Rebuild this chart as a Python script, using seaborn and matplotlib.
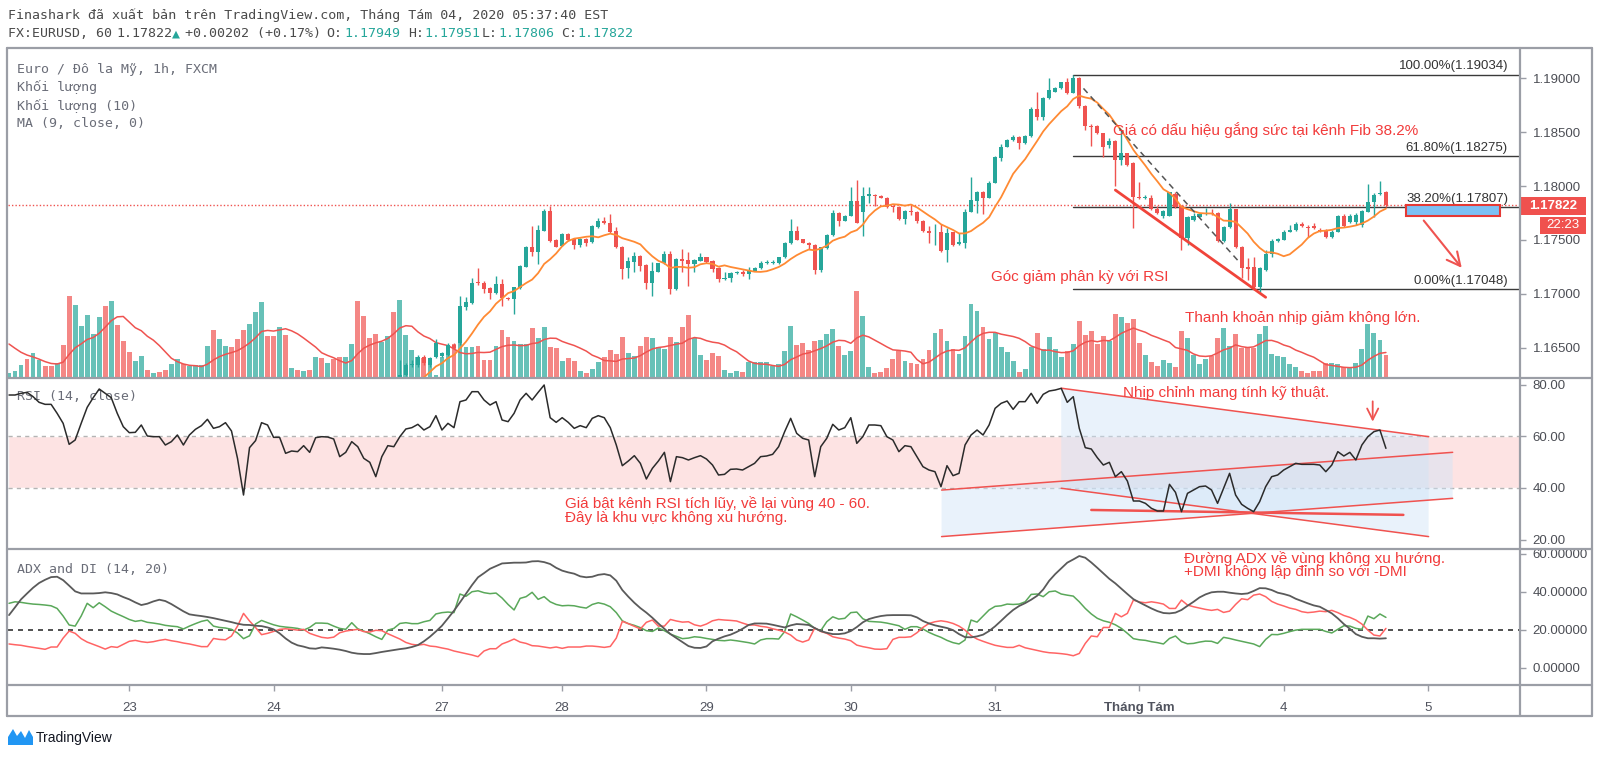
import numpy as np
import pandas as pd
import matplotlib
matplotlib.use("Agg")
import matplotlib.pyplot as plt
import seaborn as sns
from matplotlib.patches import Polygon, Rectangle
from matplotlib.lines import Line2D

# -------------------------
# Data (1h bars)
# -------------------------

# first bar that carries a candle (older candles sit below the visible price range)
candle_start = 56

opens = [
    1.16050, 1.16090, 1.16130, 1.16060, 1.16020, 1.15990, 1.15950, 1.16080, 1.16180,
    1.16150, 1.16247, 1.16340, 1.16340, 1.16411, 1.16340, 1.16411, 1.16424, 1.16433, 1.16529,
    1.16541, 1.16881, 1.16912, 1.17104, 1.17104, 1.17054, 1.17005, 1.17088, 1.16964, 1.16949,
    1.17051, 1.17252, 1.17438, 1.17385, 1.17583, 1.17769, 1.17500, 1.17444, 1.17555, 1.17509,
    1.17453, 1.17506, 1.17478, 1.17623, 1.17679, 1.17660, 1.17583, 1.17438, 1.17237, 1.17299,
    1.17351, 1.17268, 1.17098, 1.17206, 1.17283, 1.17370, 1.17042, 1.17323, 1.17314, 1.17277,
    1.17308, 1.17339, 1.17308, 1.17237, 1.17135, 1.17144, 1.17190, 1.17200, 1.17181, 1.17215,
    1.17237, 1.17283, 1.17290, 1.17283, 1.17339, 1.17469, 1.17586, 1.17506, 1.17475, 1.17453,
    1.17221, 1.17428, 1.17546, 1.17747, 1.17679, 1.17725, 1.17861, 1.17762, 1.17905, 1.17920,
    1.17905, 1.17892, 1.17818, 1.17803, 1.17691, 1.17769, 1.17762, 1.17679, 1.17586, 1.17561,
    1.17571, 1.17407, 1.17571, 1.17462, 1.17475, 1.17762, 1.17865, 1.17942, 1.17892, 1.18031,
    1.18263, 1.18365, 1.18427, 1.18458, 1.18396, 1.18464, 1.18712, 1.18644, 1.18814, 1.18876,
    1.18906, 1.18962, 1.18866, 1.19005, 1.18746, 1.18557, 1.18557, 1.18489, 1.18381, 1.18421,
    1.18242, 1.18303, 1.18211, 1.17902, 1.17890, 1.17886, 1.17787, 1.17722, 1.17725, 1.17926,
    1.17815, 1.17521, 1.17685, 1.17716, 1.17738, 1.17753, 1.17747, 1.17493, 1.17623, 1.17784,
    1.17438, 1.17246, 1.17246, 1.17061, 1.17221, 1.17370, 1.17493, 1.17500, 1.17577, 1.17592,
    1.17648, 1.17614, 1.17629, 1.17592, 1.17592, 1.17524, 1.17577, 1.17725, 1.17663, 1.17663,
    1.17639, 1.17762, 1.17855, 1.17923, 1.17949,
]
highs = [
    1.16110, 1.16150, 1.16140, 1.16080, 1.16040, 1.16010, 1.16100, 1.16200, 1.16200,
    1.16386, 1.16356, 1.16386, 1.16433, 1.16430, 1.16417, 1.16578, 1.16460, 1.16547, 1.16547,
    1.16980, 1.16974, 1.17150, 1.17243, 1.17119, 1.17060, 1.17169, 1.17135, 1.16975, 1.17065,
    1.17265, 1.17445, 1.17633, 1.17639, 1.17784, 1.17815, 1.17510, 1.17565, 1.17562, 1.17515,
    1.17515, 1.17515, 1.17635, 1.17701, 1.17716, 1.17738, 1.17623, 1.17445, 1.17345, 1.17385,
    1.17360, 1.17275, 1.17296, 1.17290, 1.17397, 1.17401, 1.17330, 1.17413, 1.17388, 1.17320,
    1.17376, 1.17345, 1.17315, 1.17245, 1.17206, 1.17206, 1.17215, 1.17221, 1.17252, 1.17245,
    1.17308, 1.17314, 1.17310, 1.17345, 1.17480, 1.17694, 1.17629, 1.17512, 1.17480, 1.17460,
    1.17438, 1.17552, 1.17778, 1.17755, 1.17730, 1.17988, 1.18056, 1.17994, 1.17988, 1.17930,
    1.17915, 1.17900, 1.17825, 1.17818, 1.17775, 1.17834, 1.17770, 1.17685, 1.17633, 1.17648,
    1.17648, 1.17608, 1.17577, 1.17568, 1.17787, 1.18087, 1.17957, 1.17950, 1.18047, 1.18280,
    1.18387, 1.18435, 1.18474, 1.18465, 1.18475, 1.18736, 1.18869, 1.18829, 1.19000, 1.18915,
    1.18970, 1.18999, 1.19034, 1.19015, 1.18755, 1.18572, 1.18565, 1.18495, 1.18443, 1.18430,
    1.18520, 1.18310, 1.18220, 1.18041, 1.17917, 1.17917, 1.17818, 1.17775, 1.17948, 1.17942,
    1.17822, 1.17722, 1.17747, 1.17750, 1.17793, 1.17784, 1.17762, 1.17630, 1.17840, 1.17790,
    1.17445, 1.17330, 1.17339, 1.17245, 1.17407, 1.17509, 1.17515, 1.17592, 1.17639, 1.17663,
    1.17670, 1.17639, 1.17654, 1.17608, 1.17600, 1.17592, 1.17732, 1.17738, 1.17738, 1.17747,
    1.17775, 1.18016, 1.17939, 1.18047, 1.17951,
]
lows = [
    1.16030, 1.16070, 1.16040, 1.16000, 1.15960, 1.15920, 1.15940, 1.16060, 1.16050,
    1.16120, 1.16238, 1.16325, 1.16325, 1.16340, 1.16325, 1.16402, 1.16410, 1.16424, 1.16489,
    1.16526, 1.16850, 1.16906, 1.17082, 1.17005, 1.16949, 1.17000, 1.16890, 1.16940, 1.16810,
    1.17045, 1.17245, 1.17354, 1.17274, 1.17580, 1.17481, 1.17430, 1.17440, 1.17490, 1.17413,
    1.17438, 1.17444, 1.17470, 1.17615, 1.17650, 1.17565, 1.17428, 1.17135, 1.17144, 1.17206,
    1.17212, 1.17048, 1.16983, 1.17200, 1.17275, 1.16996, 1.17035, 1.17206, 1.17073, 1.17200,
    1.17300, 1.17290, 1.17200, 1.17113, 1.17128, 1.17107, 1.17180, 1.17169, 1.17135, 1.17208,
    1.17230, 1.17277, 1.17280, 1.17278, 1.17335, 1.17465, 1.17495, 1.17468, 1.17416, 1.17184,
    1.17206, 1.17420, 1.17540, 1.17633, 1.17672, 1.17720, 1.17655, 1.17537, 1.17840, 1.17815,
    1.17885, 1.17795, 1.17763, 1.17685, 1.17648, 1.17731, 1.17654, 1.17571, 1.17475, 1.17453,
    1.17385, 1.17299, 1.17445, 1.17455, 1.17422, 1.17755, 1.17747, 1.17738, 1.17885, 1.18025,
    1.18236, 1.18358, 1.18420, 1.18344, 1.18390, 1.18458, 1.18613, 1.18613, 1.18808, 1.18870,
    1.18900, 1.18851, 1.18860, 1.18721, 1.18520, 1.18375, 1.18480, 1.18273, 1.18356, 1.18004,
    1.18195, 1.18185, 1.17608, 1.17880, 1.17880, 1.17778, 1.17740, 1.17700, 1.17720, 1.17800,
    1.17407, 1.17453, 1.17680, 1.17710, 1.17730, 1.17735, 1.17480, 1.17480, 1.17615, 1.17422,
    1.17144, 1.17128, 1.17048, 1.17020, 1.17215, 1.17345, 1.17485, 1.17495, 1.17570, 1.17585,
    1.17620, 1.17524, 1.17600, 1.17575, 1.17515, 1.17515, 1.17570, 1.17620, 1.17655, 1.17639,
    1.17623, 1.17755, 1.17716, 1.17915, 1.17806,
]
closes = [
    1.16090, 1.16130, 1.16060, 1.16020, 1.15990, 1.15950, 1.16080, 1.16180, 1.16100,
    1.16247, 1.16340, 1.16350, 1.16417, 1.16356, 1.16402, 1.16547, 1.16448, 1.16526, 1.16501,
    1.16887, 1.16921, 1.17104, 1.17098, 1.17048, 1.17005, 1.17088, 1.16958, 1.16949, 1.17061,
    1.17258, 1.17438, 1.17385, 1.17589, 1.17769, 1.17487, 1.17438, 1.17555, 1.17496, 1.17453,
    1.17506, 1.17475, 1.17629, 1.17679, 1.17660, 1.17574, 1.17435, 1.17234, 1.17308, 1.17351,
    1.17261, 1.17098, 1.17212, 1.17283, 1.17370, 1.17042, 1.17323, 1.17308, 1.17277, 1.17314,
    1.17339, 1.17299, 1.17231, 1.17135, 1.17150, 1.17190, 1.17206, 1.17181, 1.17218, 1.17237,
    1.17283, 1.17290, 1.17296, 1.17339, 1.17475, 1.17586, 1.17500, 1.17475, 1.17453, 1.17221,
    1.17431, 1.17546, 1.17747, 1.17679, 1.17722, 1.17861, 1.17660, 1.17911, 1.17925, 1.17905,
    1.17892, 1.17803, 1.17803, 1.17691, 1.17769, 1.17756, 1.17676, 1.17583, 1.17561, 1.17567,
    1.17401, 1.17568, 1.17453, 1.17478, 1.17762, 1.17871, 1.17942, 1.17892, 1.18031, 1.18273,
    1.18365, 1.18427, 1.18458, 1.18396, 1.18467, 1.18712, 1.18644, 1.18820, 1.18891, 1.18906,
    1.18962, 1.18866, 1.19005, 1.18743, 1.18560, 1.18545, 1.18489, 1.18365, 1.18421, 1.18242,
    1.18303, 1.18195, 1.17902, 1.17890, 1.17900, 1.17784, 1.17747, 1.17769, 1.17942, 1.17809,
    1.17515, 1.17716, 1.17722, 1.17741, 1.17753, 1.17745, 1.17493, 1.17623, 1.17784, 1.17432,
    1.17237, 1.17227, 1.17061, 1.17237, 1.17370, 1.17493, 1.17506, 1.17577, 1.17592, 1.17648,
    1.17629, 1.17608, 1.17608, 1.17583, 1.17524, 1.17577, 1.17725, 1.17629, 1.17725, 1.17731,
    1.17769, 1.17855, 1.17917, 1.17939, 1.17822,
]

volume = [
    14, 22, 40, 57, 74, 54, 35, 35, 44, 100,
    247, 220, 157, 190, 132, 182, 217, 230, 159, 112,
    77, 52, 67, 25, 15, 19, 25, 42, 57, 42,
    37, 40, 40, 97, 144, 117, 95, 92, 117, 145,
    162, 199, 229, 127, 125, 152, 130, 29, 25, 20,
    25, 64, 60, 45, 57, 62, 62, 102, 232, 185,
    119, 132, 109, 127, 199, 234, 130, 85, 64, 60,
    44, 10, 62, 84, 102, 122, 94, 94, 97, 55,
    55, 95, 144, 124, 110, 102, 102, 150, 120, 154,
    94, 89, 52, 60, 52, 22, 15, 27, 49, 64,
    84, 72, 124, 74, 67, 95, 124, 119, 92, 87,
    124, 109, 154, 190, 120, 70, 55, 74, 67, 24,
    14, 20, 17, 49, 49, 49, 49, 37, 42, 82,
    156, 100, 104, 85, 112, 115, 132, 147, 97, 70,
    80, 260, 187, 32, 14, 17, 30, 57, 82, 50,
    44, 42, 57, 84, 135, 147, 112, 87, 72, 125,
    222, 202, 152, 117, 134, 92, 77, 52, 17, 27,
    92, 135, 87, 124, 87, 64, 82, 102, 170, 130,
    140, 102, 127, 112, 192, 184, 164, 177, 104, 70,
    47, 37, 54, 44, 34, 142, 120, 70, 42, 57,
    67, 120, 149, 95, 132, 89, 94, 89, 132, 156,
    72, 67, 64, 42, 32, 22, 15, 22, 22, 45,
    45, 42, 34, 32, 44, 87, 162, 135, 114, 70,
]
# the nine bars just left of the visible window (feed the 10-bar volume average)
volume_before = [150, 160, 140, 130, 120, 110, 90, 60, 45]
# up/down colour of the volume bars that have no candle in view
volume_dir_early = "uuuduuddud" "duuuuududd" "duududduud" "uuuuduuddd" "uuuddududu" "dududd"

rsi = [
    75.97, 75.97, 76.62, 77.00, 75.33, 73.14, 72.36, 72.36, 68.88, 65.01,
    56.89, 58.56, 65.01, 71.20, 74.94, 78.29, 76.62, 74.94, 68.88, 63.72,
    61.40, 61.53, 64.37, 60.11, 59.85, 59.85, 56.63, 57.92, 60.50, 56.63,
    60.50, 62.69, 64.11, 66.56, 63.08, 63.72, 65.27, 62.05, 51.47, 37.29,
    55.60, 58.31, 65.27, 64.37, 59.60, 59.60, 53.41, 54.31, 54.05, 56.37,
    53.79, 59.47, 59.85, 59.72, 58.95, 52.12, 53.79, 57.92, 55.98, 51.47,
    49.93, 44.38, 52.12, 56.37, 55.98, 59.85, 62.82, 63.34, 64.63, 62.43,
    63.72, 67.98, 62.43, 65.01, 63.34, 73.39, 74.04, 77.26, 77.26, 74.04,
    72.10, 73.39, 66.30, 65.66, 68.88, 74.04, 76.62, 74.04, 77.00, 79.84,
    67.20, 65.40, 67.20, 65.40, 63.08, 64.11, 63.34, 66.95, 67.98, 67.20,
    63.34, 56.63, 48.63, 50.44, 52.50, 49.54, 43.48, 47.60, 50.44, 53.79,
    42.45, 52.12, 51.73, 50.83, 51.73, 52.50, 51.21, 48.89, 45.03, 45.28,
    47.22, 47.35, 46.96, 48.25, 49.54, 52.12, 52.38, 53.02, 55.98, 61.79,
    66.95, 61.14, 59.21, 58.56, 44.38, 55.98, 59.21, 64.63, 62.43, 63.34,
    67.20, 57.27, 59.85, 64.37, 64.37, 64.11, 59.85, 58.56, 54.05, 56.37,
    55.98, 52.12, 48.25, 46.96, 46.31, 40.51, 48.63, 44.77, 45.67, 56.63,
    60.50, 62.43, 60.50, 64.37, 70.81, 72.75, 73.65, 70.43, 73.39, 73.39,
    76.62, 72.75, 76.23, 77.52, 77.91, 78.55, 73.14, 75.33, 63.08, 55.60,
    55.08, 51.73, 48.89, 49.93, 44.38, 46.31, 42.70, 34.97, 34.97, 34.06,
    32.13, 31.10, 31.10, 41.41, 38.32, 30.84, 37.93, 39.22, 40.51, 40.77,
    39.22, 34.06, 39.87, 45.67, 37.29, 33.68, 32.13, 30.84, 34.71, 40.51,
    44.38, 45.03, 46.96, 48.25, 49.54, 49.15, 49.15, 49.15, 48.89, 46.31,
    48.89, 54.05, 52.38, 53.79, 50.83, 56.63, 59.85, 61.79, 62.43, 55.34,
]

adx = [
    27.6, 31.7, 35.9, 39.0, 42.0, 44.5, 46.2, 47.6, 47.8, 46.0,
    43.1, 40.1, 39.0, 39.0, 39.0, 39.2, 39.6, 39.2, 38.5, 37.1,
    35.9, 34.3, 32.9, 33.6, 34.8, 35.7, 35.0, 33.4, 31.5, 29.6,
    28.0, 27.5, 27.1, 26.6, 26.0, 25.3, 24.6, 23.9, 23.1, 22.5,
    22.4, 22.0, 21.8, 21.1, 20.1, 18.0, 15.3, 13.1, 11.7, 11.0,
    10.1, 9.9, 10.6, 10.3, 9.9, 9.4, 8.7, 7.8, 7.3, 7.1,
    7.1, 7.6, 8.2, 8.7, 9.2, 9.7, 10.1, 10.8, 11.8, 13.8,
    16.2, 19.0, 22.0, 25.9, 29.9, 34.3, 38.9, 43.4, 47.5, 49.7,
    52.0, 53.4, 54.8, 55.0, 55.2, 55.2, 55.3, 55.9, 56.0, 55.5,
    54.5, 52.5, 51.0, 50.1, 49.4, 48.0, 47.5, 47.8, 48.8, 49.2,
    48.5, 45.7, 40.8, 37.3, 34.1, 31.3, 28.9, 26.2, 23.2, 20.4,
    17.6, 15.5, 13.4, 11.3, 10.4, 10.3, 11.1, 13.8, 15.2, 16.4,
    17.3, 18.7, 20.4, 22.4, 23.2, 23.2, 23.1, 22.5, 21.8, 21.1,
    22.2, 22.9, 22.7, 22.4, 20.8, 19.2, 18.3, 17.6, 17.6, 18.0,
    19.2, 21.3, 23.8, 25.5, 26.4, 27.1, 27.5, 27.6, 27.6, 27.6,
    27.5, 26.4, 24.5, 23.2, 22.2, 21.5, 20.8, 19.7, 17.6, 16.0,
    15.9, 16.4, 17.3, 19.2, 21.7, 24.6, 27.6, 30.3, 32.4, 33.9,
    35.7, 37.8, 41.1, 45.7, 49.2, 52.2, 55.2, 56.9, 58.7, 57.8,
    55.3, 52.5, 49.6, 46.7, 44.3, 41.5, 38.7, 36.0, 34.3, 32.7,
    31.1, 29.7, 28.7, 28.5, 28.9, 30.3, 32.5, 34.6, 36.9, 38.5,
    39.6, 39.9, 39.9, 39.4, 39.0, 38.7, 39.0, 40.3, 41.8, 41.7,
    40.8, 39.4, 38.7, 37.8, 36.2, 35.0, 33.8, 32.7, 32.0, 30.3,
    28.5, 25.9, 22.9, 20.4, 17.6, 16.2, 15.4, 15.4, 15.2, 15.4,
]
plus_di = [
    33.8, 34.6, 34.3, 33.8, 33.4, 33.2, 32.9, 32.5, 31.1, 27.1,
    22.4, 21.8, 27.1, 33.8, 31.5, 34.1, 32.0, 29.7, 28.2, 26.8,
    25.3, 24.3, 24.8, 23.8, 23.4, 22.9, 22.2, 21.8, 21.5, 20.3,
    21.8, 23.1, 24.3, 25.0, 21.8, 21.1, 20.8, 20.1, 18.2, 15.2,
    16.7, 22.9, 24.8, 23.6, 22.5, 21.7, 21.3, 21.0, 20.6, 19.7,
    21.1, 23.4, 23.4, 23.2, 21.8, 20.6, 20.1, 23.6, 20.4, 19.2,
    17.8, 16.2, 14.8, 19.7, 20.6, 23.2, 23.6, 23.1, 23.1, 24.1,
    24.8, 28.2, 28.9, 29.2, 28.9, 38.7, 37.5, 39.9, 40.4, 39.4,
    38.9, 39.2, 36.6, 33.2, 30.3, 36.4, 37.3, 39.6, 35.9, 37.3,
    34.6, 33.2, 32.5, 32.7, 32.5, 31.8, 31.3, 33.2, 34.1, 33.4,
    32.0, 28.9, 24.6, 23.1, 22.2, 21.0, 19.4, 19.0, 20.8, 19.4,
    17.6, 16.4, 15.2, 15.5, 16.2, 15.9, 15.3, 14.8, 14.3, 14.1,
    14.5, 14.1, 13.6, 13.1, 12.4, 14.5, 15.2, 15.2, 15.0, 18.9,
    28.2, 26.7, 25.0, 23.2, 20.6, 19.4, 24.1, 26.7, 25.5, 25.9,
    28.9, 29.2, 25.7, 24.3, 24.1, 23.9, 23.4, 22.7, 22.0, 20.1,
    21.5, 21.5, 20.3, 18.5, 17.1, 15.9, 14.3, 13.1, 12.4, 14.5,
    25.0, 23.9, 27.1, 30.3, 32.2, 32.5, 33.4, 33.2, 33.4, 34.6,
    38.5, 38.7, 37.3, 39.9, 40.3, 38.7, 38.1, 37.6, 34.6, 31.1,
    28.2, 25.9, 24.6, 23.8, 22.5, 20.6, 18.0, 15.2, 14.6, 14.3,
    13.6, 13.1, 12.4, 15.3, 16.6, 13.6, 12.5, 12.7, 13.4, 13.9,
    13.8, 12.7, 15.9, 15.3, 14.5, 13.8, 13.1, 12.4, 11.0, 14.8,
    17.4, 17.3, 18.0, 18.9, 19.7, 20.1, 20.1, 20.1, 20.1, 19.0,
    18.2, 20.1, 22.0, 21.8, 20.6, 20.1, 27.1, 25.7, 28.2, 26.4,
]
minus_di = [
    12.4, 12.0, 11.7, 11.1, 10.6, 10.1, 9.6, 10.8, 10.8, 15.5,
    19.2, 18.0, 15.2, 13.4, 12.2, 11.0, 9.7, 11.0, 10.6, 12.2,
    13.8, 14.3, 13.6, 13.2, 13.6, 14.3, 14.8, 14.1, 13.6, 12.9,
    12.4, 11.7, 11.0, 11.0, 15.3, 14.8, 14.6, 16.6, 21.8, 28.5,
    24.5, 21.1, 17.3, 18.0, 19.0, 20.1, 20.4, 20.1, 19.7, 20.1,
    18.0, 16.9, 15.9, 15.5, 16.0, 18.3, 19.2, 19.7, 20.1, 18.9,
    18.7, 19.6, 19.4, 17.8, 16.4, 15.0, 13.2, 12.2, 11.8, 12.2,
    11.3, 11.0, 10.3, 9.7, 8.7, 8.0, 7.3, 6.6, 5.7, 8.7,
    9.9, 9.9, 12.4, 13.6, 15.0, 13.4, 12.7, 11.5, 11.3, 10.8,
    10.3, 10.8, 10.1, 10.8, 10.8, 10.8, 11.3, 11.3, 11.0, 10.6,
    11.1, 15.5, 24.3, 23.1, 21.7, 20.3, 23.8, 25.0, 21.8, 21.8,
    25.3, 24.5, 23.9, 24.1, 22.5, 21.8, 22.9, 24.6, 25.3, 25.0,
    24.8, 24.5, 23.4, 22.4, 22.4, 21.7, 21.3, 20.4, 19.7, 18.7,
    17.1, 14.5, 13.4, 14.5, 20.8, 19.0, 18.0, 16.2, 15.5, 15.0,
    14.1, 11.8, 11.0, 10.4, 9.7, 9.6, 9.9, 14.8, 15.9, 15.9,
    16.2, 18.3, 21.1, 23.2, 24.1, 24.6, 24.1, 23.2, 21.8, 19.7,
    16.8, 15.0, 13.8, 12.7, 11.7, 11.1, 10.6, 10.6, 11.7, 10.4,
    9.7, 9.0, 8.3, 7.8, 7.6, 7.3, 6.9, 6.2, 7.4, 12.7,
    16.6, 16.2, 21.1, 21.1, 28.5, 26.7, 28.5, 35.5, 34.5, 34.1,
    34.6, 34.1, 33.4, 31.1, 31.1, 35.5, 32.9, 32.0, 31.3, 30.6,
    30.1, 30.6, 29.0, 29.7, 33.2, 36.2, 35.7, 38.1, 38.7, 37.3,
    34.8, 33.4, 32.4, 31.3, 30.6, 29.4, 28.9, 29.2, 29.7, 29.4,
    30.1, 28.9, 27.4, 26.4, 25.0, 22.9, 19.7, 17.1, 16.6, 20.6,
]

day_ticks = [20, 44, 72, 92, 116, 140, 164, 188, 212, 236]
day_labels = ["23", "24", "27", "28", "29", "30", "31", "Tháng Tám", "4", "5"]

fib_levels = [1.19034, 1.18275, 1.17807, 1.17048]
fib_ratios = ["100.00%", "61.80%", "38.20%", "0.00%"]

last_price = 1.17822
bar_open, bar_high, bar_low, bar_close = 1.17949, 1.17951, 1.17806, 1.17822
change, change_pct = 0.00202, 0.17

price_ticks = [1.165, 1.170, 1.175, 1.180, 1.185, 1.190]
rsi_ticks = [20, 40, 60, 80]
adx_ticks = [0, 20, 40, 60]

# -------------------------
# Style
# -------------------------
sns.set_theme(style="white")
plt.rcParams['font.family'] = ['Liberation Sans', 'DejaVu Sans']
MONO = ['DejaVu Sans Mono', 'DejaVu Sans']

UP, DOWN = '#26a69a', '#ef5350'
VOL_UP, VOL_DOWN = '#67c1b8', '#f48785'
NOTE = '#f23b3b'
FRAME = '#9b9ea6'
LEGEND = '#6a6d78'
AXIS_TXT = '#4c4e55'
NOTE_SIZE = 11

W, H = 1600, 758
fig = plt.figure(figsize=(16, 7.58), dpi=100)


def rect(top, bottom, left=8, right=1520):
    return [left / W, 1 - bottom / H, (right - left) / W, (bottom - top) / H]


ax_vol = fig.add_axes(rect(48, 378))
ax = fig.add_axes(rect(48, 378), sharex=ax_vol)
ax_rsi = fig.add_axes(rect(378, 549), sharex=ax_vol)
ax_adx = fig.add_axes(rect(549, 685), sharex=ax_vol)
ax.patch.set_visible(False)

idx_all = np.arange(len(volume))
o, h, l, c = (np.array(a) for a in (opens, highs, lows, closes))
idx_c = np.arange(candle_start, candle_start + len(c))
up = c >= o

# -------------------------
# Volume + its 10 bar average
# -------------------------
vol_up = [ch == 'u' for ch in volume_dir_early] + list(up)
ax_vol.bar(idx_all, volume, width=0.8, color=[VOL_UP if u else VOL_DOWN for u in vol_up], linewidth=0)
vol_ma = pd.Series(volume_before + volume).rolling(10).mean().iloc[len(volume_before):].to_numpy()
sns.lineplot(x=idx_all, y=vol_ma, ax=ax_vol, color='#ef5350', linewidth=1.1)
ax_vol.set_ylim(0, 990)
ax_vol.axis('off')

# -------------------------
# Candles + MA 9
# -------------------------
cols = np.where(up, UP, DOWN)
ax.vlines(idx_c, l, h, colors=cols, linewidth=1, zorder=3)
ax.bar(idx_c, np.maximum(np.abs(c - o), 0.00008), bottom=np.minimum(o, c),
       width=0.68, color=cols, linewidth=0, zorder=4)
ma9 = pd.Series(c).rolling(9).mean()
ok = ma9.notna().to_numpy()
sns.lineplot(x=idx_c[ok], y=ma9[ok].to_numpy(), ax=ax, color='#ff8a33', linewidth=1.3, zorder=5)

ax.axhline(last_price, color=DOWN, linestyle=(0, (1, 1.5)), linewidth=1, zorder=2)

# fibonacci retracement
for lev, name in zip(fib_levels, fib_ratios):
    ax.plot([177, 251.3], [lev, lev], color='#3a3a3a', linewidth=1, zorder=2)
    ax.text(249.3, lev + 0.00020, f"{name}({lev:.5f})", ha='right', va='bottom',
            fontsize=9.5, color='#333333')

ax.plot([178.7, 204.8], [1.18906, 1.17283], color='#555555', linestyle=(0, (4, 3)), linewidth=1.1, zorder=6)
ax.plot([184.0, 209.0], [1.17963, 1.16968], color='#f0443a', linewidth=2, zorder=6)
ax.add_patch(Rectangle((232.4, 1.17725), 15.6, 0.00099, facecolor='#7cc0f4', edgecolor='#e53935', linewidth=1.5, zorder=6))
ax.annotate('', xy=(241.9, 1.17221), xytext=(235.0, 1.17700),
            arrowprops=dict(arrowstyle='->', color='#ef5350', lw=1.5, mutation_scale=24))

ax.text(183.6, 1.18520, "Giá có dấu hiệu gắng sức tại kênh Fib 38.2%", color=NOTE, fontsize=NOTE_SIZE, va='center', zorder=7)
ax.text(163.3, 1.17159, "Góc giảm phân kỳ với RSI", color=NOTE, fontsize=NOTE_SIZE, va='center')
ax.text(195.6, 1.16773, "Thanh khoản nhịp giảm không lớn.", color=NOTE, fontsize=NOTE_SIZE, va='center')

for y, s in zip([0.936, 0.881, 0.824, 0.770],
                ["Euro / Đô la Mỹ, 1h, FXCM", "Khối lượng", "Khối lượng (10)", "MA (9, close, 0)"]):
    ax.text(0.006, y, s, transform=ax.transAxes, family=MONO, fontsize=9.5, color=LEGEND, va='center')

ax.set_ylim(1.16219, 1.19281)
ax.set_yticks(price_ticks)
ax.set_yticklabels([f"{v:.5f}" for v in price_ticks])

# -------------------------
# RSI
# -------------------------
ax_rsi.axhspan(40, 60, facecolor='#fde3e3', zorder=0)
for lev in (40, 60):
    ax_rsi.axhline(lev, color='#b4b4b4', linestyle=(0, (3, 3)), linewidth=1, zorder=1)

chan_a = [(175.0, 78.6), (236.1, 59.85), (236.1, 21.2), (175.0, 39.9)]
chan_b = [(155.1, 39.2), (240.1, 53.8), (240.1, 36.0), (155.1, 21.2)]
for poly in (chan_a, chan_b):
    ax_rsi.add_patch(Polygon(poly, closed=True, facecolor='#cfe3f7', alpha=0.45, edgecolor='none', zorder=1))
    ax_rsi.plot([poly[0][0], poly[1][0]], [poly[0][1], poly[1][1]], color='#f0524f', linewidth=1.1, zorder=2)
    ax_rsi.plot([poly[3][0], poly[2][0]], [poly[3][1], poly[2][1]], color='#f0524f', linewidth=1.1, zorder=2)
ax_rsi.plot([180.0, 231.9], [31.5, 29.6], color='#f0524f', linewidth=1.8, zorder=2)
ax_rsi.annotate('', xy=(226.8, 64.6), xytext=(226.8, 74.6),
                arrowprops=dict(arrowstyle='->', color='#ef5350', lw=1.3, mutation_scale=20))

sns.lineplot(x=idx_all, y=rsi, ax=ax_rsi, color='#2b2b2b', linewidth=1.1, zorder=5)

ax_rsi.text(0.006, 0.889, "RSI (14, close)", transform=ax_rsi.transAxes, family=MONO,
            fontsize=9.5, color=LEGEND, va='center')
ax_rsi.text(92.4, 31.1, "Giá bật kênh RSI tích lũy, về lại vùng 40 - 60.\nĐây là khu vực không xu hướng.",
            color=NOTE, fontsize=NOTE_SIZE, va='center', linespacing=1.0)
ax_rsi.text(185.3, 76.75, "Nhịp chỉnh mang tính kỹ thuật.", color=NOTE, fontsize=NOTE_SIZE, va='center')

ax_rsi.set_ylim(16.4, 82.55)
ax_rsi.set_yticks(rsi_ticks)
ax_rsi.set_yticklabels([f"{v:.2f}" for v in rsi_ticks])

# -------------------------
# ADX and DI
# -------------------------
ax_adx.axhline(20, color='#333333', linestyle=(0, (3, 3)), linewidth=1.2, zorder=1)
sns.lineplot(x=idx_all, y=plus_di, ax=ax_adx, color='#5aa85a', linewidth=1.1)
sns.lineplot(x=idx_all, y=minus_di, ax=ax_adx, color='#ff6464', linewidth=1.1)
sns.lineplot(x=idx_all, y=adx, ax=ax_adx, color='#5a5a5a', linewidth=1.3)

ax_adx.text(0.006, 0.851, "ADX and DI (14, 20)", transform=ax_adx.transAxes, family=MONO,
            fontsize=9.5, color=LEGEND, va='center')
ax_adx.text(195.4, 57.1, "Đường ADX về vùng không xu hướng.", color=NOTE, fontsize=NOTE_SIZE, va='center')
ax_adx.text(195.4, 50.1, "+DMI không lập đỉnh so với -DMI", color=NOTE, fontsize=NOTE_SIZE, va='center')

ax_adx.set_ylim(-9.2, 62.4)
ax_adx.set_yticks(adx_ticks)
ax_adx.set_yticklabels([f"{v:.5f}" for v in adx_ticks])

# -------------------------
# Axes cosmetics
# -------------------------
for a in (ax, ax_rsi, ax_adx):
    for sp in a.spines.values():
        sp.set_visible(False)
    a.yaxis.tick_right()
    a.tick_params(axis='y', which='both', right=True, length=4, width=1, color=FRAME,
                  labelsize=9.5, labelcolor=AXIS_TXT, pad=5)
    a.set_xlabel('')
    a.set_ylabel('')
    a.grid(False)
for a in (ax, ax_rsi):
    a.tick_params(axis='x', bottom=False, labelbottom=False)

ax_adx.set_xticks(day_ticks)
ax_adx.set_xticklabels(day_labels)
ax_adx.tick_params(axis='x', bottom=True, length=4, width=1, color=FRAME, labelsize=9.5,
                   labelcolor='#50535e', pad=8)
for lab in ax_adx.get_xticklabels():
    if lab.get_text() == "Tháng Tám":
        lab.set_fontweight('bold')
ax_vol.set_xlim(-0.17, 251.3)

# panel frame (TradingView style separators)
def fline(x0, y0, x1, y1, **kw):
    fig.add_artist(Line2D([x0 / W, x1 / W], [1 - y0 / H, 1 - y1 / H], transform=fig.transFigure,
                          color=FRAME, linewidth=1.6, **kw))


for py in (48, 378, 549, 685, 716):
    fline(7, py, 1592, py)
for px in (7, 1520, 1592):
    fline(px, 48, px, 716)

# last price tags on the price scale
fig.add_artist(Rectangle((1520 / W, 1 - 215 / H), 66 / W, 18 / H, transform=fig.transFigure,
                         facecolor='#f0514e', edgecolor='none'))
fig.text(1553 / W, 1 - 206 / H, f"{last_price:.5f}", color='white', fontsize=9.5,
         ha='center', va='center', fontweight='bold')
fig.add_artist(Rectangle((1540 / W, 1 - 234 / H), 46 / W, 17 / H, transform=fig.transFigure,
                         facecolor='#f0514e', edgecolor='none'))
fig.text(1563 / W, 1 - 225.5 / H, "22:23", color='white', fontsize=9.5, ha='center', va='center')

# -------------------------
# Header
# -------------------------
HEAD = '#4a4a4a'
VAL = '#26a69a'
fig.text(7.7 / W, 1 - 15 / H, "Finashark đã xuất bản trên TradingView.com, Tháng Tám 04, 2020 05:37:40 EST",
         family=MONO, fontsize=9.55, color=HEAD, va='center')
line2 = [
    (7.7, "FX:EURUSD, 60", HEAD), (116.3, f"{last_price:.5f}", HEAD), (172, "▲", VAL),
    (184.7, f"+{change:.5f} (+{change_pct:.2f}%)", HEAD),
    (326.5, "O:", HEAD), (344, f"{bar_open:.5f}", VAL),
    (408, "H:", HEAD), (424, f"{bar_high:.5f}", VAL),
    (482, "L:", HEAD), (498, f"{bar_low:.5f}", VAL),
    (561, "C:", HEAD), (577, f"{bar_close:.5f}", VAL),
]
for px, s, col in line2:
    fig.text(px / W, 1 - 33.5 / H, s, family=MONO, fontsize=9.55, color=col, va='center')

# TradingView mark
logo = [(8, 745), (8, 737), (13, 729), (17, 736), (21, 731), (25, 738), (29, 730), (33, 737), (33, 745)]
fig.add_artist(Polygon([(x / W, 1 - y / H) for x, y in logo], closed=True, transform=fig.transFigure,
                       facecolor='#2196f3', edgecolor='none'))
fig.text(36 / W, 1 - 738 / H, "TradingView", fontsize=10, color='#131722', va='center')

fig.savefig("out.png", dpi=100)
plt.close(fig)
